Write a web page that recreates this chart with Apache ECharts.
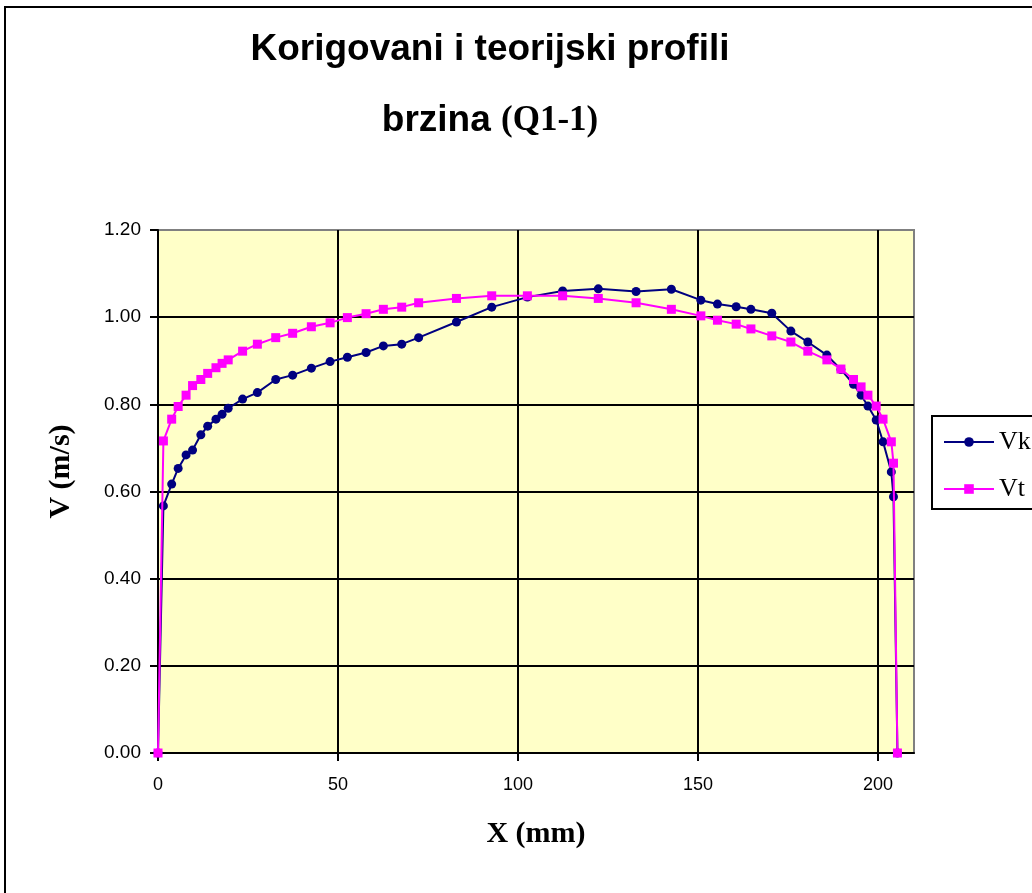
<!DOCTYPE html>
<html>
<head>
<meta charset="utf-8">
<script src="https://cdn.jsdelivr.net/npm/echarts@6/dist/echarts.min.js"></script>
<style>
html,body{margin:0;padding:0;background:#fff;}
#c{width:1032px;height:893px;}
</style>
</head>
<body>
<div id="c"></div>
<script>
// X positions (mm)
const xPos = [0, 1.5, 3.8, 5.6, 7.8, 9.6, 11.9, 13.8, 16.1, 17.8, 19.5, 23.5, 27.6, 32.7, 37.4, 42.6, 47.8, 52.6, 57.8, 62.6, 67.7, 72.4, 82.9, 92.7, 102.6, 112.4, 122.3, 132.8, 142.6, 150.8, 155.4, 160.6, 164.7, 170.5, 175.8, 180.5, 185.8, 189.7, 193.2, 195.3, 197.2, 199.5, 201.4, 203.7, 204.3, 205.4];
// corrected profile Vk (m/s)
const vk = [0, 0.567, 0.617, 0.653, 0.684, 0.695, 0.730, 0.750, 0.766, 0.777, 0.791, 0.812, 0.827, 0.857, 0.867, 0.883, 0.898, 0.908, 0.919, 0.934, 0.938, 0.953, 0.989, 1.023, 1.046, 1.060, 1.065, 1.059, 1.064, 1.039, 1.030, 1.024, 1.018, 1.009, 0.968, 0.943, 0.913, 0.880, 0.846, 0.821, 0.796, 0.764, 0.714, 0.645, 0.588, 0];
// theoretical profile Vt (m/s)
const vt = [0, 0.716, 0.766, 0.795, 0.821, 0.843, 0.857, 0.871, 0.884, 0.894, 0.902, 0.922, 0.938, 0.953, 0.963, 0.978, 0.987, 0.999, 1.008, 1.018, 1.023, 1.033, 1.043, 1.049, 1.049, 1.049, 1.043, 1.033, 1.018, 1.003, 0.993, 0.984, 0.973, 0.957, 0.943, 0.922, 0.902, 0.881, 0.857, 0.840, 0.821, 0.796, 0.766, 0.714, 0.665, 0];
const xTicks = [0, 50, 100, 150, 200];
const seriesNames = ['Vk', 'Vt'];
const titleLine1 = 'Korigovani i teorijski profili';
const titleLine2a = 'brzina ';
const titleLine2b = '(Q1-1)';

const chart = echarts.init(document.getElementById('c'), null, {renderer: 'canvas'});
const serif = '"Liberation Serif","Times New Roman",serif';
const sans = '"Liberation Sans",Arial,sans-serif';

const option = {
  animation: false,
  backgroundColor: '#ffffff',
  title: {
    text: '{a|' + titleLine1 + '}\n{a|' + titleLine2a + '}{b|' + titleLine2b + '}',
    left: 490,
    textAlign: 'center',
    top: 14,
    padding: 0,
    textStyle: {
      rich: {
        a: {fontFamily: sans, fontWeight: 'bold', fontSize: 37, lineHeight: 71, color: '#000'},
        b: {fontFamily: serif, fontWeight: 'bold', fontSize: 35, lineHeight: 71, color: '#000'}
      }
    }
  },
  legend: {
    orient: 'vertical',
    left: 932,
    top: 416,
    padding: [13, 12, 7, 11],
    itemGap: 21,
    itemWidth: 50,
    itemHeight: 12,
    borderColor: '#000',
    borderWidth: 2,
    backgroundColor: '#fff',
    textStyle: {fontFamily: serif, fontSize: 26, lineHeight: 26, color: '#000'},
    data: seriesNames
  },
  grid: {
    left: 158, top: 230, right: 118, bottom: 140,
    show: true,
    backgroundColor: '#FFFFC8',
    borderColor: '#808080',
    borderWidth: 2
  },
  xAxis: {
    type: 'value',
    min: 0, max: 210, interval: 50,
    name: 'X (mm)',
    nameLocation: 'middle',
    nameGap: 66,
    nameTextStyle: {fontFamily: serif, fontWeight: 'bold', fontSize: 30, color: '#000'},
    axisLine: {show: true, onZero: false, lineStyle: {color: '#000', width: 2}},
    axisTick: {show: true, inside: false, length: 8, lineStyle: {color: '#000', width: 2}, customValues: xTicks},
    axisLabel: {fontFamily: sans, fontSize: 18, color: '#000', margin: 23, customValues: xTicks},
    splitLine: {show: true, lineStyle: {color: ['#000', '#000', '#000', '#000', '#000', '#808080'], width: 2}}
  },
  yAxis: {
    type: 'value',
    min: 0, max: 1.2, interval: 0.2,
    name: 'V (m/s)',
    nameLocation: 'middle',
    nameGap: 82,
    nameRotate: 90,
    nameTextStyle: {fontFamily: serif, fontWeight: 'bold', fontSize: 30, color: '#000', padding: [0, 0, 0, 40]},
    axisLine: {show: true, lineStyle: {color: '#000', width: 2}},
    axisTick: {show: true, inside: false, length: 8, lineStyle: {color: '#000', width: 2}},
    axisLabel: {fontFamily: sans, fontSize: 19, color: '#000', margin: 17, formatter: v => v.toFixed(2)},
    splitLine: {show: true, lineStyle: {color: ['#000', '#000', '#000', '#000', '#000', '#000', '#808080'], width: 2}}
  },
  series: [
    {
      name: seriesNames[0],
      type: 'line',
      data: xPos.map((x, i) => [x, vk[i]]),
      symbol: 'circle',
      symbolSize: 9,
      lineStyle: {color: '#000080', width: 2},
      itemStyle: {color: '#000080'},
      z: 2
    },
    {
      name: seriesNames[1],
      type: 'line',
      data: xPos.map((x, i) => [x, vt[i]]),
      symbol: 'rect',
      symbolSize: 9,
      lineStyle: {color: '#FF00FF', width: 2},
      itemStyle: {color: '#FF00FF'},
      z: 3
    }
  ],
  graphic: [
    {
      type: 'rect',
      z: 100,
      silent: true,
      shape: {x: 5, y: 7, width: 1200, height: 1100},
      style: {fill: 'none', stroke: '#000', lineWidth: 2}
    }
  ]
};
chart.setOption(option);
</script>
</body>
</html>
